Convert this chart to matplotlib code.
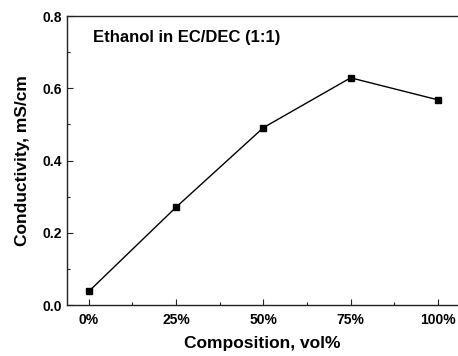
import numpy as np
from matplotlib import pyplot as plt

plt.rcParams['font.family'] = ['Liberation Sans', 'DejaVu Sans']
plt.rcParams['font.weight'] = 'bold'

composition = ['0%', '25%', '50%', '75%', '100%']
conductivity = [0.038, 0.271, 0.491, 0.629, 0.568]

x = np.arange(len(composition))

fig = plt.figure(figsize=(4.58, 3.56), dpi=100)
ax = fig.add_axes([0.1463, 0.1430, 0.8537, 0.8120])

ax.plot(x, conductivity, color='black', linewidth=1.0,
        marker='s', markersize=4.5, markerfacecolor='black')

ax.set_xlim(-0.25, 4.23)
ax.set_ylim(0, 0.8)
ax.set_xticks(x)
ax.set_xticklabels(composition)
ax.set_xticks(x[:-1] + 0.5, minor=True)
ax.set_yticks([0.0, 0.2, 0.4, 0.6, 0.8])
ax.set_yticks([0.1, 0.3, 0.5, 0.7], minor=True)

ax.tick_params(which='major', direction='in', length=4, width=0.8,
               labelsize=10, top=False, right=False, colors='#222222')
ax.tick_params(which='minor', direction='in', length=2.5, width=0.8,
               top=False, right=False, colors='#222222')
ax.tick_params(axis='x', which='major', pad=6)
for lab in ax.get_xticklabels() + ax.get_yticklabels():
    lab.set_fontweight('bold')
    lab.set_color('black')

ax.spines['right'].set_visible(False)
for s in ['left', 'bottom', 'top']:
    ax.spines[s].set_linewidth(1.0)
    ax.spines[s].set_color('#222222')

ax.set_xlabel('Composition, vol%', fontsize=12.5, fontweight='bold', labelpad=6)
ax.set_ylabel('Conductivity, mS/cm', fontsize=12.5, fontweight='bold', labelpad=9)

ax.text(0.066, 0.925, 'Ethanol in EC/DEC (1:1)', transform=ax.transAxes,
        fontsize=12, fontweight='bold', va='center', ha='left')

fig.savefig('out.png', dpi=100)
